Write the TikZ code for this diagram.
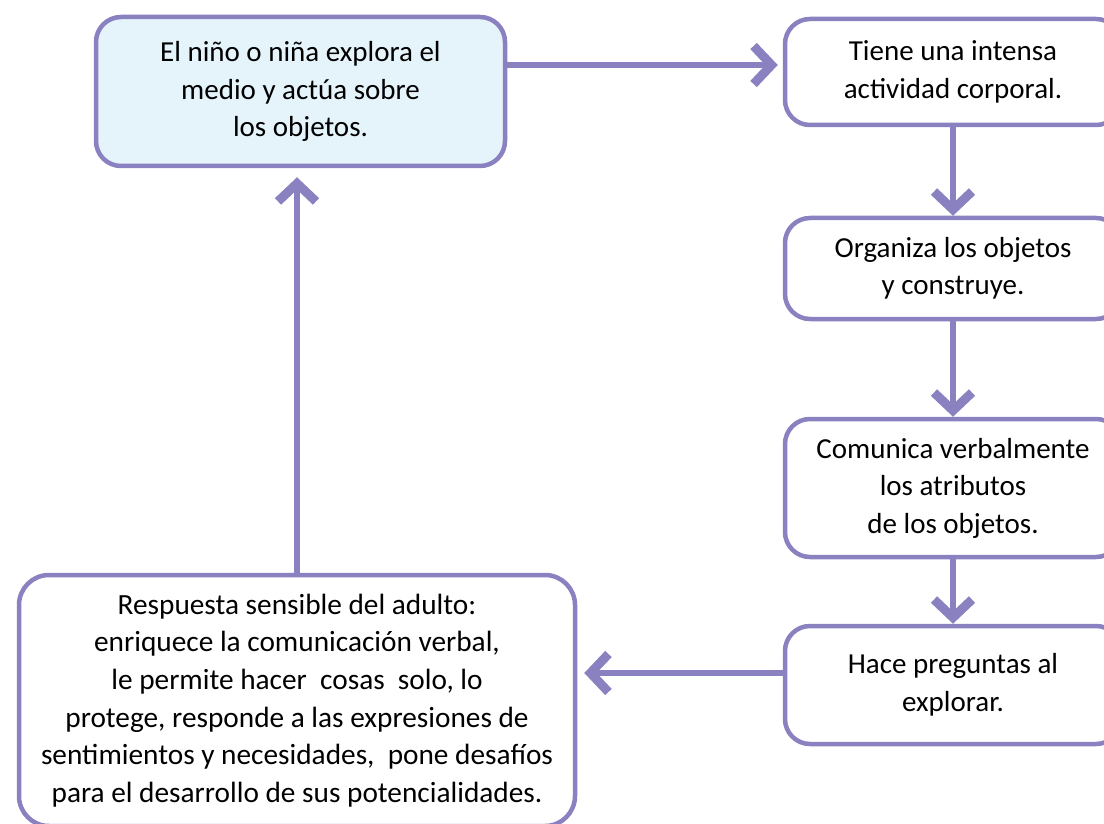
\documentclass[tikz,border=0pt]{standalone}
\usepackage{fontspec}
\setmainfont{Carlito}
\usetikzlibrary{arrows.meta}
\definecolor{lila}{HTML}{8A82C0}
\definecolor{celeste}{HTML}{E5F4FB}
\tikzset{
  box/.style={draw=lila, line width=4.5pt, rounded corners=25pt, align=center,
    font=\fontsize{29}{37.5}\selectfont, inner sep=0pt, text=black},
  arr/.style={draw=lila, line width=6.5pt,
    -{Straight Barb[length=18pt,width=38pt,line width'=9pt,line cap=butt,line join=miter]}}
}
\begin{document}
\begin{tikzpicture}[x=1pt,y=-1pt]
\useasboundingbox (0,0) rectangle (1104,824);
\clip (0,0) rectangle (1104,824);
\node[box, fill=celeste, minimum width=409pt, minimum height=149pt] (A) at (300.5,91.5)
  {El niño o niña explora el\\medio y actúa sobre\\los objetos.};
\node[box, minimum width=336pt, minimum height=106pt] (B) at (953,72)
  {Tiene una intensa\\actividad corporal.};
\node[box, minimum width=336pt, minimum height=101pt] (C) at (953,268.5)
  {Organiza los objetos\\y construye.};
\node[box, minimum width=336pt, minimum height=138pt] (D) at (953,488)
  {Comunica verbalmente\\los atributos\\de los objetos.};
\node[box, minimum width=336pt, minimum height=118pt] (E) at (953,685)
  {Hace preguntas al\\explorar.};
\node[box, rounded corners=30pt, minimum width=556pt, minimum height=251pt,
  font=\fontsize{29.3}{37.6}\selectfont] (F) at (297,700.5)
  {\rule{0pt}{7pt}Respuesta sensible del adulto:\\enriquece la comunicación verbal,\\le permite hacer\ \ cosas\ \ solo, lo\\protege, responde a las expresiones de\\sentimientos y necesidades,\ \ pone desafíos\\para el desarrollo de sus potencialidades.};
\coordinate (a1) at (A.east |- 0,65);
\coordinate (b1) at (B.west |- 0,65);
\draw[arr, shorten >=5pt] (a1) -- (b1);
\draw[arr] (B.south) -- (C.north);
\draw[arr] (C.south) -- (D.north);
\draw[arr] (D.south) -- (E.north);
\coordinate (e1) at (E.west |- 0,673);
\coordinate (f1) at (F.east |- 0,673);
\draw[arr, shorten >=7pt] (e1) -- (f1);
\coordinate (a2) at (F.north |- A.south);
\draw[arr, shorten >=9pt] (F.north) -- (a2);
\end{tikzpicture}
\end{document}
